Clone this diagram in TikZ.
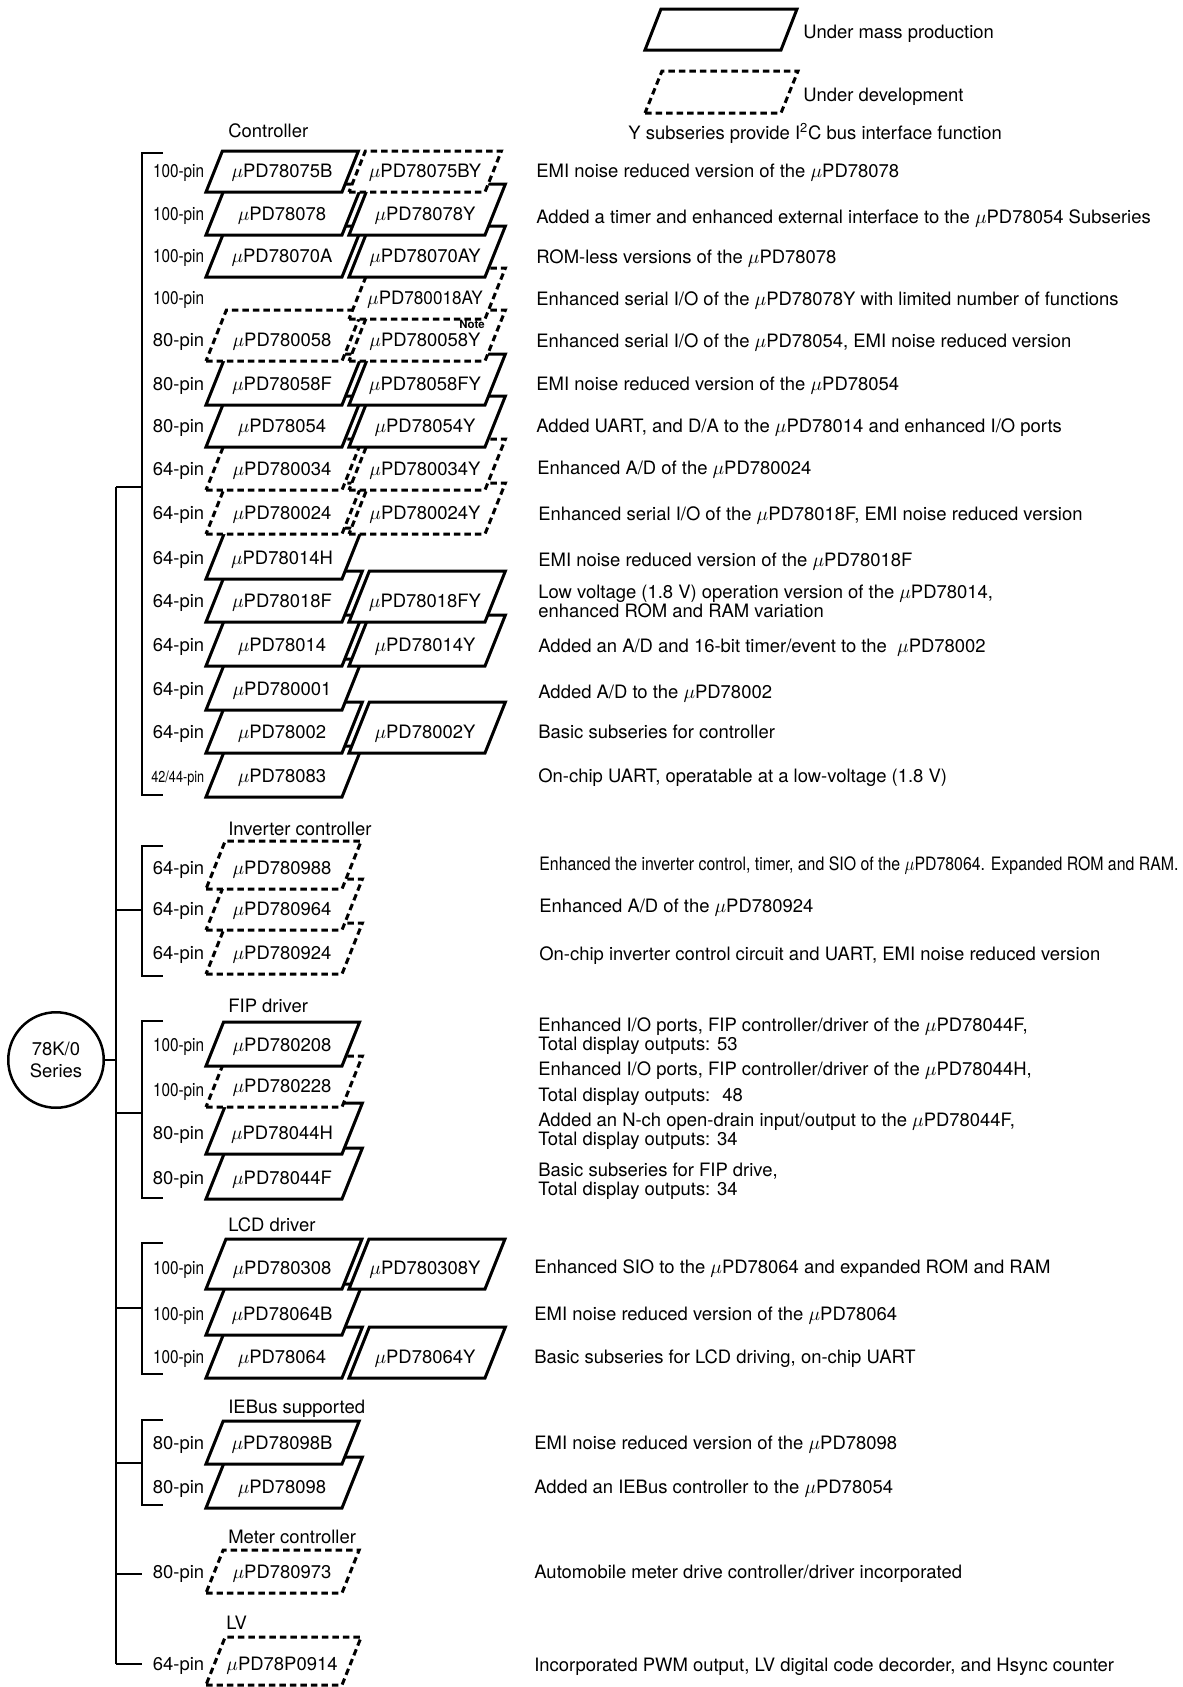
\documentclass[tikz,border=0pt]{standalone}
\usepackage{fontspec}
\setmainfont{TeX Gyre Heros}
\usepackage{tikz}

\tikzset{
  mass/.style={draw, line width=0.06cm, fill=white, line join=miter},
  devel/.style={mass, dash pattern=on 0.13cm off 0.08cm},
  chiptxt/.style={inner sep=0pt, text height=7.5pt, text depth=0pt},
  pinlbl/.style={chiptxt, anchor=east},
  desc/.style={chiptxt, anchor=west},
  desctwo/.style={inner sep=0pt, anchor=west, align=left, font=\fontsize{10.5}{10.8}\selectfont},
  grp/.style={chiptxt, anchor=west},
  tree/.style={line width=0.026cm},
}

% caja de un chip: nombre, x, y (borde inferior), alto, estilo, texto
\newcommand{\chip}[6]{%
  \draw[#5] (#2,#3) -- ++(136,0) -- ++({0.4*#4},-#4) -- ++(-136,0) -- cycle;
  \node[chiptxt] (#1) at ({#2+76},{#3-21}) {$\mu$PD#6};
}
\newcommand{\hpin}{\scalebox{0.83}[1]{100-pin}}

\begin{document}
\begin{tikzpicture}[x=0.02cm, y=-0.02cm, font=\fontsize{10.5}{12.6}\selectfont]
  \useasboundingbox (0,0) rectangle (1183,1687);
  \coordinate (pinx) at (204.5,0);

  % Leyenda
  \draw[mass] (645,50) -- ++(136,0) -- ++(16,-41) -- ++(-136,0) -- cycle;
  \node[desc] (lmass) at (803,32) {Under mass production};
  \draw[devel] (645,113) -- ++(136,0) -- ++(17,-42) -- ++(-136,0) -- cycle;
  \node[desc] (ldevel) at (803,95) {Under development};
  \node[desc] (lyser) at (628,133) {Y subseries provide I\textsuperscript{2}C bus interface function};

  % Serie y tronco
  \node[circle, draw, line width=0.05cm, minimum size=1.91cm, inner sep=0pt, align=center] (ser) at (56,1060) {78K/0\\Series};
  \coordinate (top) at (116,487);
  \coordinate (bot) at (116,1664);
  \draw[tree] (top) -- (bot);
  \draw[tree] (ser) -- (ser -| top);

  % Controller
  \node[grp] (hctl) at (228,131) {Controller};
  \coordinate (ctlT) at (142,153);
  \coordinate (ctlB) at (142,795);
  \draw[tree] (ctlT) ++(21,0) -- (ctlT) -- (ctlB) -- ++(21,0);
  \draw[tree] (top) -- (top -| ctlT);

  \chip{c78083}{206}{797}{51}{mass}{78083}
  \chip{c78002}{206}{753}{51}{mass}{78002}
  \chip{c78002Y}{349}{753}{51}{mass}{78002Y}
  \chip{c780001}{206}{710}{51}{mass}{780001}
  \chip{c78014}{206}{666}{51}{mass}{78014}
  \chip{c78014Y}{349}{666}{51}{mass}{78014Y}
  \chip{c78018F}{206}{622}{51}{mass}{78018F}
  \chip{c78018FY}{349}{622}{51}{mass}{78018FY}
  \chip{c78014H}{206}{579}{51}{mass}{78014H}
  \chip{c780024}{206}{534}{51}{devel}{780024}
  \chip{c780024Y}{349}{534}{51}{devel}{780024Y}
  \chip{c780034}{206}{490}{51}{devel}{780034}
  \chip{c780034Y}{349}{490}{51}{devel}{780034Y}
  \chip{c78054}{206}{447}{51}{mass}{78054}
  \chip{c78054Y}{349}{447}{51}{mass}{78054Y}
  \chip{c78058F}{206}{405}{51}{mass}{78058F}
  \chip{c78058FY}{349}{405}{51}{mass}{78058FY}
  \chip{c780058}{206}{361}{51}{devel}{780058}
  \chip{c780058Y}{349}{361}{51}{devel}{780058Y}
  \chip{c780018AY}{349}{319}{51}{devel}{\scalebox{0.93}[1]{780018AY}}
  \chip{c78070A}{206}{277}{51}{mass}{78070A}
  \chip{c78070AY}{349}{277}{51}{mass}{78070AY}
  \chip{c78078}{206}{235}{51}{mass}{78078}
  \chip{c78078Y}{349}{235}{51}{mass}{78078Y}
  \chip{c78075B}{206}{192}{41}{mass}{78075B}
  \chip{c78075BY}{349}{192}{41}{devel}{78075BY}
  \node[inner sep=0pt, font=\fontsize{6.5}{7}\selectfont\bfseries] (note) at (472,324) {Note};

  \node[pinlbl] (p1) at (c78075B -| pinx) {\hpin};
  \node[pinlbl] (p2) at (c78078 -| pinx) {\hpin};
  \node[pinlbl] (p3) at (c78070A -| pinx) {\hpin};
  \node[pinlbl] (p4) at (c780018AY -| pinx) {\hpin};
  \node[pinlbl] (p5) at (c780058 -| pinx) {80-pin};
  \node[pinlbl] (p6) at (c78058F -| pinx) {80-pin};
  \node[pinlbl] (p7) at (c78054 -| pinx) {80-pin};
  \node[pinlbl] (p8) at (c780034 -| pinx) {64-pin};
  \node[pinlbl] (p9) at (c780024 -| pinx) {64-pin};
  \node[pinlbl] (p10) at (c78014H -| pinx) {64-pin};
  \node[pinlbl] (p11) at (c78018F -| pinx) {64-pin};
  \node[pinlbl] (p12) at (c78014 -| pinx) {64-pin};
  \node[pinlbl] (p13) at (c780001 -| pinx) {64-pin};
  \node[pinlbl] (p14) at (c78002 -| pinx) {64-pin};
  \node[pinlbl] (p15) at (c78083 -| pinx) {\scalebox{0.8}[1]{\fontsize{9}{10}\selectfont 42/44-pin}};

  \node[desc] (d1) at (536,171) {EMI noise reduced version of the $\mu$PD78078};
  \node[desc] (d2) at (536,216.7) {Added a timer and enhanced external interface to the $\mu$PD78054 Subseries};
  \node[desc] (d3) at (536,257) {ROM-less versions of the $\mu$PD78078};
  \node[desc] (d4) at (536,299) {Enhanced serial I/O of the $\mu$PD78078Y with limited number of functions};
  \node[desc] (d5) at (536,341) {Enhanced serial I/O of the $\mu$PD78054, EMI noise reduced version};
  \node[desc] (d6) at (536,384) {EMI noise reduced version of the $\mu$PD78054};
  \node[desc] (d7) at (536,426) {Added UART, and D/A to the $\mu$PD78014 and enhanced I/O ports};
  \node[desc] (d8) at (537,468) {Enhanced A/D of the $\mu$PD780024};
  \node[desc] (d9) at (538,514) {Enhanced serial I/O of the $\mu$PD78018F, EMI noise reduced version};
  \node[desc] (d10) at (538,560) {EMI noise reduced version of the $\mu$PD78018F};
  \node[desctwo] (d11) at (538,601) {Low voltage (1.8 V) operation version of the $\mu$PD78014,\\enhanced ROM and RAM variation};
  \node[desc] (d12) at (538,645.7) {Added an A/D and 16-bit timer/event to the \ $\mu$PD78002};
  \node[desc] (d13) at (538,691.7) {Added A/D to the $\mu$PD78002};
  \node[desc] (d14) at (538,731.7) {Basic subseries for controller};
  \node[desc] (d15) at (538,775.7) {On-chip UART, operatable at a low-voltage (1.8 V)};

  % Inverter controller
  \node[grp] (hinv) at (228,829) {Inverter controller};
  \coordinate (invT) at (142,846);
  \coordinate (invB) at (142,976);
  \coordinate (invJ) at (142,910);
  \draw[tree] (invT) ++(21,0) -- (invT) -- (invB) -- ++(21,0);
  \draw[tree] (invJ -| top) -- (invJ);

  \chip{c780924}{206}{974}{51}{devel}{780924}
  \chip{c780964}{206}{930}{51}{devel}{780964}
  \chip{c780988}{206}{889}{48}{devel}{780988}

  \node[pinlbl] (p16) at (c780988 -| pinx) {64-pin};
  \node[pinlbl] (p17) at (c780964 -| pinx) {64-pin};
  \node[pinlbl] (p18) at (c780924 -| pinx) {64-pin};

  \node[desc] (d16) at (539,864) {\scalebox{0.86}[1]{Enhanced the inverter control, timer, and SIO of the $\mu$PD78064. Expanded ROM and RAM.}};
  \node[desc] (d17) at (539,906) {Enhanced A/D of the $\mu$PD780924};
  \node[desc] (d18) at (539,954) {On-chip inverter control circuit and UART, EMI noise reduced version};

  % FIP driver
  \node[grp] (hfip) at (228,1006) {FIP driver};
  \coordinate (fipT) at (142,1021);
  \coordinate (fipB) at (142,1198);
  \coordinate (fipJ) at (142,1113);
  \draw[tree] (fipT) ++(21,0) -- (fipT) -- (fipB) -- ++(21,0);
  \draw[tree] (fipJ -| top) -- (fipJ);

  \chip{c78044F}{206}{1199}{51}{mass}{78044F}
  \chip{c78044H}{206}{1154}{51}{mass}{78044H}
  \chip{c780228}{206}{1107}{51}{devel}{780228}
  \chip{c780208}{206}{1066}{44}{mass}{780208}

  \node[pinlbl] (p19) at (c780208 -| pinx) {\hpin};
  \node[pinlbl] (p20) at ([yshift=-0.08cm]c780228 -| pinx) {\hpin};
  \node[pinlbl] (p21) at (c78044H -| pinx) {80-pin};
  \node[pinlbl] (p22) at (c78044F -| pinx) {80-pin};

  \node[desctwo] (d19) at (538,1036) {Enhanced I/O ports, FIP controller/driver of the $\mu$PD78044F,\\Total display outputs: 53};
  \node[desctwo] (d20) at (538,1084) {Enhanced I/O ports, FIP controller/driver of the $\mu$PD78044H,\\[4pt]Total display outputs: \ 48};
  \node[desctwo] (d21) at (538,1131) {Added an N-ch open-drain input/output to the $\mu$PD78044F,\\Total display outputs: 34};
  \node[desctwo] (d22) at (538,1181) {Basic subseries for FIP drive,\\Total display outputs: 34};

  % LCD driver
  \node[grp] (hlcd) at (228,1225) {LCD driver};
  \coordinate (lcdT) at (142,1243);
  \coordinate (lcdB) at (142,1374);
  \coordinate (lcdJ) at (142,1308);
  \draw[tree] (lcdT) ++(21,0) -- (lcdT) -- (lcdB) -- ++(21,0);
  \draw[tree] (lcdJ -| top) -- (lcdJ);

  \chip{c78064}{206}{1378}{51}{mass}{78064}
  \chip{c78064Y}{349}{1378}{51}{mass}{78064Y}
  \chip{c78064B}{206}{1335}{51}{mass}{78064B}
  \chip{c780308}{206}{1289}{50}{mass}{780308}
  \chip{c780308Y}{349}{1289}{50}{mass}{780308Y}

  \node[pinlbl] (p23) at (c780308 -| pinx) {\hpin};
  \node[pinlbl] (p24) at (c78064B -| pinx) {\hpin};
  \node[pinlbl] (p25) at (c78064 -| pinx) {\hpin};

  \node[desc] (d23) at (534,1266.7) {Enhanced SIO to the $\mu$PD78064 and expanded ROM and RAM};
  \node[desc] (d24) at (534,1314) {EMI noise reduced version of the $\mu$PD78064};
  \node[desc] (d25) at (534,1356.7) {Basic subseries for LCD driving, on-chip UART};

  % IEBus supported
  \node[grp] (hieb) at (228,1407) {IEBus supported};
  \coordinate (iebT) at (142,1420);
  \coordinate (iebB) at (142,1505);
  \coordinate (iebJ) at (142,1463);
  \draw[tree] (iebT) ++(21,0) -- (iebT) -- (iebB) -- ++(21,0);
  \draw[tree] (iebJ -| top) -- (iebJ);

  \chip{c78098}{206}{1508}{51}{mass}{78098}
  \chip{c78098B}{206}{1464}{43}{mass}{78098B}

  \node[pinlbl] (p26) at (c78098B -| pinx) {80-pin};
  \node[pinlbl] (p27) at (c78098 -| pinx) {80-pin};

  \node[desc] (d26) at (534,1442.7) {EMI noise reduced version of the $\mu$PD78098};
  \node[desc] (d27) at (534,1486.7) {Added an IEBus controller to the $\mu$PD78054};

  % Meter controller
  \node[grp] (hmet) at (228,1537) {Meter controller};
  \coordinate (metJ) at (142,1574);
  \draw[tree] (metJ -| top) -- (metJ);
  \chip{c780973}{206}{1593}{43}{devel}{780973}
  \node[pinlbl] (p28) at (c780973 -| pinx) {80-pin};
  \node[desc] (d28) at (534,1572.3) {Automobile meter drive controller/driver incorporated};

  % LV
  \node[grp] (hlv) at (226,1623) {LV};
  \coordinate (lvJ) at (142,1664);
  \draw[tree] (bot) -- (lvJ);
  \chip{c78P0914}{206}{1685}{48}{devel}{78P0914}
  \node[pinlbl] (p29) at (c78P0914 -| pinx) {64-pin};
  \node[desc] (d29) at (534,1665) {Incorporated PWM output, LV digital code decorder, and Hsync counter};
\end{tikzpicture}
\end{document}
